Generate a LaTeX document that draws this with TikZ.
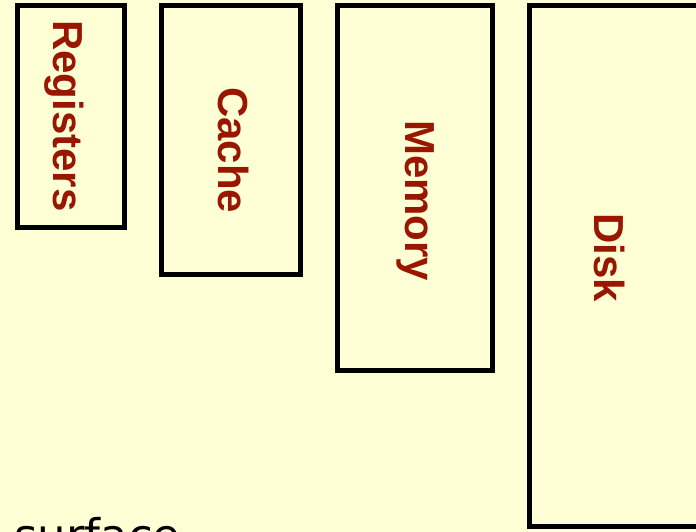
\documentclass[tikz,border=0pt]{standalone}
\usepackage{fontspec}
\setmainfont{Liberation Sans}
\newfontfamily\captionfont{DejaVu Sans}
\definecolor{paper}{RGB}{255,255,214}
\definecolor{labelred}{RGB}{153,22,0}
\tikzset{
  level/.style={draw=black, line width=5bp, line join=miter},
  levellabel/.style={rotate=-90, anchor=base west, inner sep=0pt, text=labelred,
    font=\fontsize{42bp}{50bp}\selectfont\bfseries},
}
\begin{document}
\begin{tikzpicture}[x=1bp, y=-1bp]
  \useasboundingbox (0,0) rectangle (696,532);
  \clip (0,0) rectangle (696,532);
  \fill[paper] (0,0) rectangle (696,532);

  % storage levels, growing in size from left to right
  \draw[level] (17.5,5.5) rectangle (124.5,227.5);
  \draw[level] (161.5,5.5) rectangle (300.5,274.5);
  \draw[level] (337.5,5.5) rectangle (492.5,370.5);
  \draw[level] (529,5.5) rectangle (720,526.5);

  \node[levellabel] (registers) at (53,20) {Registers};
  \node[levellabel] (cache) at (218,87) {Cache};
  \node[levellabel] (memory) at (405,120) {Memory};
  \node[levellabel] (disk) at (594,213) {Disk};

  \node[anchor=base west, inner sep=0pt, font=\captionfont\fontsize{45bp}{54bp}\selectfont]
    (surface) at (14,551) {surface};
\end{tikzpicture}
\end{document}
